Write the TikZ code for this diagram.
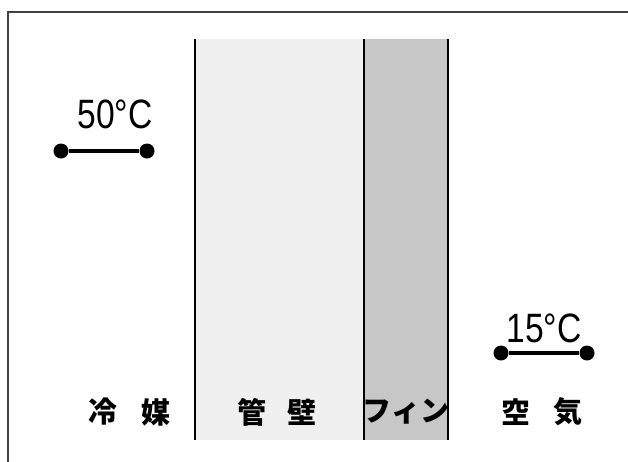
\documentclass[tikz,border=0pt]{standalone}
\usepackage{fontspec}
\setmainfont{Liberation Sans}
\newfontfamily\cjk{Noto Sans CJK JP}
\begin{document}
\begin{tikzpicture}[x=1pt,y=-1pt,
  dot/.style={circle,fill=black,inner sep=0pt,minimum size=15pt},
  link/.style={line width=3.8pt},
  wall/.style={line width=2.8pt},
  temp/.style={anchor=base,inner sep=0pt,font=\fontsize{41}{41}\selectfont,xscale=0.82},
  lab/.style={inner sep=0pt,font=\cjk\bfseries\fontsize{29}{29}\selectfont}]
\useasboundingbox (0,0) rectangle (628,461);
\fill[white] (0,0) rectangle (628,461);
% frame
\draw[line width=1.3pt,black!75] (8,470) -- (8,12) -- (640,12);
% shaded layers
\fill[black!6] (195,39) rectangle (364,440);
\fill[black!22] (364,39) rectangle (448,440);
\draw[wall] (195,39) -- (195,440);
\draw[wall] (364,39) -- (364,440);
\draw[wall] (448,39) -- (448,440);
% temperatures
\node[temp] (t1) at (115,128) {50°C};
\node[dot] (a1) at (61,151) {};
\node[dot] (a2) at (147,151) {};
\draw[link] (a1) -- (a2);
\node[temp] (t2) at (544,342) {15°C};
\node[dot] (b1) at (501,353) {};
\node[dot] (b2) at (587,353) {};
\draw[link] (b1) -- (b2);
% labels
\node[lab] (l1) at (103,412) {冷};
\node[lab] (l2) at (156,412) {媒};
\node[lab] (l3) at (252,412) {管};
\node[lab] (l4) at (302,412) {壁};
\node[lab] (l5) at (406,412) {フィン};
\node[lab] (l6) at (516,412) {空};
\node[lab] (l7) at (568,412) {気};
\end{tikzpicture}
\end{document}
